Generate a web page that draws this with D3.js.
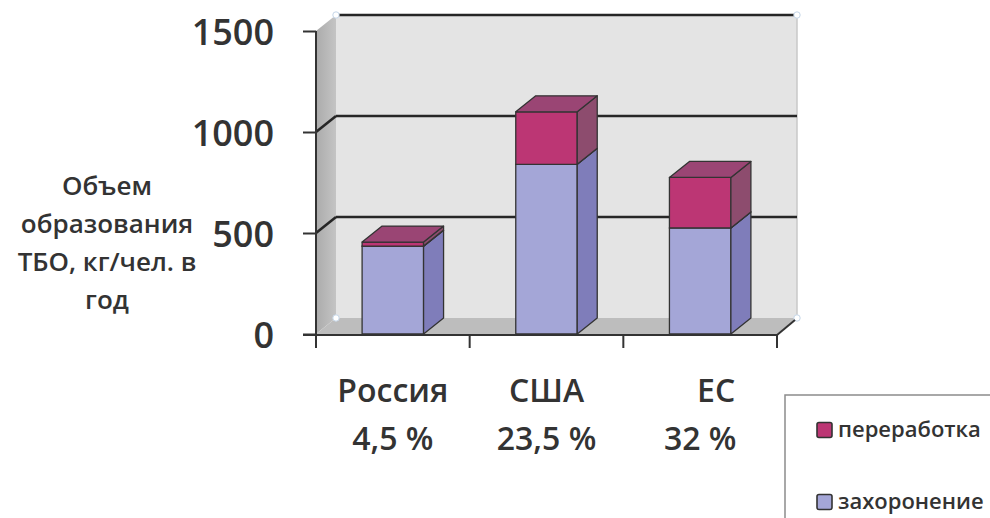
<!DOCTYPE html>
<html><head><meta charset="utf-8">
<script src="https://cdn.jsdelivr.net/npm/d3@7"></script>
<style>
html,body{margin:0;padding:0;background:#fff;}
svg{display:block;font-family:"Open Sans","Noto Sans",sans-serif;}
</style></head>
<body>
<svg id="chart" width="990" height="518"></svg>
<script>
// ---- data ----
const categories = ["Россия", "США", "ЕС"];
const shares = ["4,5 %", "23,5 %", "32 %"];
const seriesNames = ["захоронение", "переработка"];
const burial = [435, 840, 525];      // захоронение
const recycling = [20, 260, 250];    // переработка
const yTicks = [0, 500, 1000, 1500];
const axisTitle = ["Объем", "образования", "ТБО, кг/чел. в", "год"];

// ---- styles ----
const frontCol = {"захоронение": "#A4A6D7", "переработка": "#BC3674"};
const sideCol  = {"захоронение": "#7F7DBA", "переработка": "#8D4C6E"};
const topCol   = {"захоронение": "#9294CC", "переработка": "#9A4574"};
const legendOrder = ["переработка", "захоронение"];
const DX = 20, DY = -16;
const textCol = "#333";

const svg = d3.select("#chart");
svg.append("rect").attr("width", 990).attr("height", 518).attr("fill", "#fff");

const y = d3.scaleLinear().domain([0, 1500]).range([334, 31]);
const x = d3.scaleBand().domain(categories).range([316, 777]).paddingInner(0.6).paddingOuter(0.3);
const bw = x.bandwidth();
const x0 = x.range()[0], x1 = x.range()[1];

// ---- walls ----
const defs = svg.append("defs");
const lg = defs.append("linearGradient").attr("id", "sideWall").attr("x1", 0).attr("x2", 1).attr("y1", 0).attr("y2", 0);
lg.append("stop").attr("offset", 0).attr("stop-color", "#ABABAB");
lg.append("stop").attr("offset", 1).attr("stop-color", "#C4C4C4");

const yTop = y(1500), yBot = y(0);
// back wall
svg.append("rect").attr("x", x0 + DX).attr("y", yTop + DY).attr("width", x1 - x0).attr("height", yBot - yTop)
  .attr("fill", "#E4E4E4");
// right edge of wall
svg.append("line").attr("x1", x1 + DX).attr("x2", x1 + DX).attr("y1", yTop + DY).attr("y2", yBot + DY)
  .attr("stroke", "#C9C9C9").attr("stroke-width", 1.5);
// left side wall
svg.append("polygon").attr("points", [[x0, yTop], [x0 + DX, yTop + DY], [x0 + DX, yBot + DY], [x0, yBot]].join(" "))
  .attr("fill", "url(#sideWall)");
// floor
svg.append("polygon").attr("points", [[x0, yBot], [x1, yBot], [x1 + DX, yBot + DY], [x0 + DX, yBot + DY]].join(" "))
  .attr("fill", "#BDBDBD");

// gridlines
const grid = svg.append("g").attr("stroke", "#262626").attr("stroke-width", 2.6);
yTicks.filter(v => v > 0).forEach(v => {
  grid.append("line").attr("x1", x0 + DX).attr("x2", x1 + DX).attr("y1", y(v) + DY).attr("y2", y(v) + DY);
  if (v < 1500) grid.append("line").attr("x1", x0).attr("x2", x0 + DX).attr("y1", y(v)).attr("y2", y(v) + DY);
});

// corner handles
[[x0 + DX, yTop + DY], [x1 + DX, yTop + DY], [x0 + DX, yBot + DY], [x1 + DX, yBot + DY]].forEach(p => {
  svg.append("circle").attr("cx", p[0]).attr("cy", p[1]).attr("r", 3.2)
    .attr("fill", "#fff").attr("stroke", "#C5D6E8").attr("stroke-width", 1);
});

// ---- bars ----
const stackData = categories.map((c, i) => ({cat: c, segs: [
  {name: "захоронение", v0: 0, v1: burial[i]},
  {name: "переработка", v0: burial[i], v1: burial[i] + recycling[i]}
]}));
const bars = svg.append("g").attr("stroke", "#333").attr("stroke-width", 1.3).attr("stroke-linejoin", "round");
stackData.forEach(d => {
  const bx = x(d.cat);
  d.segs.forEach(s => {
    const yt = y(s.v1), yb = y(s.v0);
    bars.append("rect").attr("x", bx).attr("y", yt).attr("width", bw).attr("height", yb - yt)
      .attr("fill", frontCol[s.name]);
    bars.append("polygon").attr("points", [[bx + bw, yt], [bx + bw + DX, yt + DY], [bx + bw + DX, yb + DY], [bx + bw, yb]].join(" "))
      .attr("fill", sideCol[s.name]);
    bars.append("polygon").attr("points", [[bx, yt], [bx + DX, yt + DY], [bx + bw + DX, yt + DY], [bx + bw, yt]].join(" "))
      .attr("fill", topCol[s.name]);
  });
});

// ---- axes ----
const yAxis = d3.axisLeft(y).tickValues(yTicks).tickSize(13).tickPadding(29).tickFormat(d3.format("d"));
const gy = svg.append("g").attr("transform", `translate(${x0},0)`).call(yAxis);
gy.select(".domain").remove();
gy.selectAll(".tick line").attr("stroke", "#333").attr("stroke-width", 2);
gy.selectAll(".tick text").attr("fill", textCol).attr("font-size", 36).attr("font-weight", 600)
  .attr("font-family", "'Open Sans', sans-serif").attr("dy", "0.38em");

// axis lines
svg.append("line").attr("x1", x0).attr("x2", x0).attr("y1", yTop).attr("y2", yBot + 14)
  .attr("stroke", "#333").attr("stroke-width", 2);
svg.append("line").attr("x1", x0 - 13).attr("x2", x1).attr("y1", yBot + 1).attr("y2", yBot + 1)
  .attr("stroke", "#333").attr("stroke-width", 2);
svg.append("line").attr("x1", x1).attr("x2", x1 + DX - 2).attr("y1", yBot + 1).attr("y2", yBot + DY + 2)
  .attr("stroke", "#333").attr("stroke-width", 2);
// category boundary ticks
categories.forEach(c => {
  const tx = x(c) + bw / 2 + x.step() / 2;
  svg.append("line").attr("x1", tx).attr("x2", tx).attr("y1", yBot + 1).attr("y2", yBot + 14)
    .attr("stroke", "#333").attr("stroke-width", 2);
});

// category labels
const catDx = [0, 0, 16];
const cl = svg.append("g").attr("fill", textCol).attr("font-size", 32).attr("font-weight", 600).attr("text-anchor", "middle");
categories.forEach((c, i) => {
  const cx = x(c) + bw / 2;
  cl.append("text").attr("x", cx + catDx[i]).attr("y", 402).text(c);
  cl.append("text").attr("x", cx).attr("y", 450).text(shares[i]);
});

// axis title
const at = svg.append("g").attr("fill", textCol).attr("font-size", 26).attr("font-weight", 600).attr("text-anchor", "middle");
axisTitle.forEach((t, i) => at.append("text").attr("x", 107).attr("y", 195 + i * 38).text(t));

// ---- legend ----
svg.append("rect").attr("x", 785).attr("y", 395).attr("width", 230).attr("height", 150)
  .attr("fill", "#fff").attr("stroke", "#8C8C8C").attr("stroke-width", 1.5);
legendOrder.forEach((n, i) => {
  const ly = 430 + i * 72;
  svg.append("rect").attr("x", 817).attr("y", ly - 7.5).attr("width", 15).attr("height", 15).attr("rx", 2)
    .attr("fill", frontCol[n]).attr("stroke", "#333").attr("stroke-width", 1.6);
  svg.append("text").attr("x", 838).attr("y", ly + 7).attr("fill", textCol).attr("font-size", 22)
    .attr("font-weight", 600).text(n);
});
</script>
</body></html>
